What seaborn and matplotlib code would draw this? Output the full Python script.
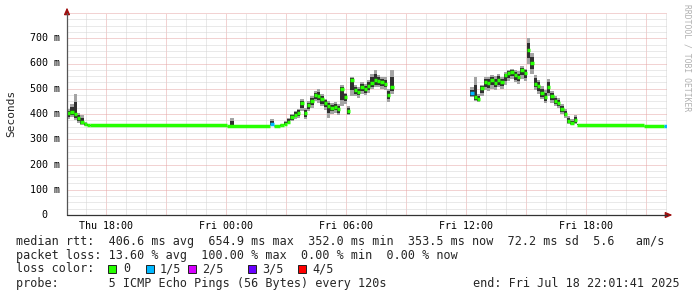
import numpy as np
import pandas as pd
import matplotlib
matplotlib.use("Agg")
import matplotlib.pyplot as plt
import seaborn as sns
from matplotlib.patches import Rectangle
from matplotlib.ticker import MultipleLocator, FixedLocator
from matplotlib.transforms import blended_transform_factory

# ---------------- data: median RTT (ms), 10-minute steps from Thu 16:03 ----------------
start_hour = 16.05          # hours since Thu 00:00
step_hours = 1 / 6

seg1_med = [402, 406, 400, 385, 368, 360, 356]
seg1_lo = [380, 388, 375, 365, 355, 352, 352]
seg1_hi = [420, 440, 478, 405, 395, 368, 362]
seg1_loss = [0, 0, 0, 0, 0, 0, 0]

flat1_med = [355] * 41
flat1_lo = [353] * 41
flat1_hi = [357] * 41
flat1_loss = [0] * 41

flat2_med = [352] * 13
flat2_lo = [350] * 13
flat2_hi = [354, 383] + [354] * 11
flat2_loss = [0] * 13

seg2_med = [360, 352, 352, 355, 362, 370, 387, 398, 405, 443, 403, 435, 450, 474, 470, 458,
            445, 432, 425, 428, 418, 498, 466, 412, 534, 494, 486, 506, 498, 510, 522, 534,
            530, 526, 520, 474, 506]
seg2_lo = [352, 350, 350, 350, 355, 360, 372, 380, 385, 410, 380, 410, 425, 450, 445, 430,
           415, 385, 400, 405, 395, 430, 440, 395, 470, 470, 465, 480, 475, 485, 500, 505,
           505, 500, 495, 447, 480]
seg2_hi = [380, 356, 356, 360, 372, 385, 400, 412, 420, 458, 425, 450, 470, 492, 500, 478,
           460, 450, 445, 448, 440, 515, 485, 430, 545, 515, 505, 525, 520, 535, 560, 573,
           555, 548, 545, 500, 573]
seg2_loss = [1] + [0] * 36

gap_len = 23

seg3_med = [482, 466, 459, 502, 526, 522, 534, 522, 534, 526, 553, 561, 565, 553, 545, 573,
            561, 655, 603, 520, 510, 482, 466, 506, 470, 450, 445, 420, 400, 372, 365, 375]
seg3_lo = [466, 450, 448, 470, 495, 490, 500, 495, 505, 500, 515, 530, 540, 525, 520, 540,
           530, 600, 560, 495, 480, 460, 445, 470, 445, 430, 425, 400, 385, 362, 358, 360]
seg3_hi = [506, 545, 480, 515, 545, 548, 555, 550, 560, 548, 565, 575, 580, 575, 570, 590,
           580, 700, 640, 555, 535, 510, 495, 540, 490, 472, 465, 440, 420, 392, 380, 395]
seg3_loss = [1] + [0] * 31

flat3_med = [358] * 20 + [352] * 7
flat3_lo = [356] * 20 + [350] * 7
flat3_hi = [360] * 20 + [354] * 7
flat3_loss = [0] * 26 + [1]

loss_labels = ["0", "1/5", "2/5", "3/5", "4/5"]
loss_colors = ["#26ff00", "#00b8ff", "#d600ff", "#6a00ff", "#ff0000"]

x_tick_hours = [18, 24, 30, 36, 42]
x_tick_labels = ["Thu 18:00", "Fri 00:00", "Fri 06:00", "Fri 12:00", "Fri 18:00"]
y_tick_values = [0, 100, 200, 300, 400, 500, 600, 700]
y_tick_labels = ["0", "100 m", "200 m", "300 m", "400 m", "500 m", "600 m", "700 m"]

legend_rtt = "median rtt:  406.6 ms avg  654.9 ms max  352.0 ms min  353.5 ms now  72.2 ms sd  5.6   am/s"
legend_loss = "packet loss: 13.60 % avg  100.00 % max  0.00 % min  0.00 % now"
legend_probe = "probe:       5 ICMP Echo Pings (56 Bytes) every 120s"
legend_end = "end: Fri Jul 18 22:01:41 2025"

# ---------------- assemble ----------------
nan = [np.nan] * gap_len
med = np.array(seg1_med + flat1_med + flat2_med + seg2_med + nan + seg3_med + flat3_med, float)
lo = np.array(seg1_lo + flat1_lo + flat2_lo + seg2_lo + nan + seg3_lo + flat3_lo, float)
hi = np.array(seg1_hi + flat1_hi + flat2_hi + seg2_hi + nan + seg3_hi + flat3_hi, float)
loss = np.array(seg1_loss + flat1_loss + flat2_loss + seg2_loss + [0] * gap_len + seg3_loss + flat3_loss)
t = start_hour + step_hours * np.arange(len(med))
valid = ~np.isnan(med)

# ---------------- figure ----------------
sns.set_theme(style="white")
plt.rcParams["font.family"] = ["DejaVu Sans Mono", "DejaVu Sans"]

W, H = 697, 297
fig = plt.figure(figsize=(W / 100, H / 100), dpi=100)
fig.patch.set_facecolor("white")
ax = fig.add_axes([67 / W, 1 - 215 / H, 600 / W, 202 / H])
ax.set_facecolor("white")

ax.set_xlim(start_hour, start_hour + step_hours * len(med))
ax.set_ylim(0, 800)

# grid
ax.xaxis.set_major_locator(FixedLocator(np.arange(18, 46, 3)))
ax.xaxis.set_minor_locator(FixedLocator(np.arange(17, 47, 1)))
ax.yaxis.set_major_locator(MultipleLocator(100))
ax.yaxis.set_minor_locator(MultipleLocator(25))
ax.set_axisbelow(True)
ax.grid(True, which="minor", color="#d4d4d4", linestyle=(0, (1, 1)), linewidth=0.72)
ax.grid(True, which="major", color="#e6a6a6", linestyle=(0, (1, 1)), linewidth=0.72)
major_x = list(np.arange(18, 46, 3))
ax.set_xticks(major_x)
ax.set_xticklabels([x_tick_labels[x_tick_hours.index(h)] if h in x_tick_hours else "" for h in major_x])
ax.set_yticklabels([])
ax.tick_params(axis="x", which="major", length=2, width=0.7, color="#e6a6a6", pad=2.5,
               labelsize=7.2, labelcolor="black")
ax.tick_params(axis="y", which="major", length=2, width=0.7, color="#e6a6a6", pad=0)
ax.tick_params(which="minor", length=2, width=0.7, color="#d4d4d4")
for s in ax.spines.values():
    s.set_visible(False)

# smoke
tv, lov, hiv, medv = t[valid], lo[valid], hi[valid], med[valid]
ax.bar(tv, hiv - lov, bottom=lov, width=step_hours, align="edge", color="#a4a4a4",
       linewidth=0, zorder=2)
in_lo = medv - (medv - lov) * 0.6
in_hi = medv + (hiv - medv) * 0.6
ax.bar(tv, in_hi - in_lo, bottom=in_lo, width=step_hours, align="edge", color="#303030",
       linewidth=0, zorder=3)

# median, coloured by loss: runs of equal samples form one step segment
rows = []
run = -1
prev = None
for i in range(len(med)):
    if not valid[i]:
        prev = None
        continue
    key = (med[i], loss[i])
    if key != prev:
        run += 1
        lab = loss_labels[loss[i]]
        rows.append([t[i], med[i], run, lab])
        rows.append([t[i] + step_hours, med[i], run, lab])
    else:
        rows[-1][0] = t[i] + step_hours
    prev = key
df = pd.DataFrame(rows, columns=["t", "median", "step", "loss"])
sns.lineplot(data=df, x="t", y="median", units="step", estimator=None, hue="loss",
             palette=dict(zip(loss_labels, loss_colors)), linewidth=2.5,
             solid_capstyle="butt", legend=False, ax=ax, zorder=4, sort=False)
ax.set_xlabel("")
ax.set_ylabel("")

# axis lines with arrows
ax.plot([0, 0], [0, 1.0], transform=ax.transAxes, color="#555555", lw=0.9, clip_on=False, zorder=5)
ax.plot([0, 1.0], [0, 0], transform=ax.transAxes, color="#333333", lw=0.9, clip_on=False, zorder=5)
arrow = dict(arrowstyle="-|>,head_length=0.5,head_width=0.22", color="#a01010", lw=0.9,
             shrinkA=0, shrinkB=0, mutation_scale=8)
ax.annotate("", xy=(0, 1.027), xytext=(0, 1.0), xycoords="axes fraction", arrowprops=arrow)
ax.annotate("", xy=(1.009, 0), xytext=(1.0, 0), xycoords="axes fraction", arrowprops=arrow)

# y tick labels
trans = blended_transform_factory(ax.transAxes, ax.transData)
for v, lab in zip(y_tick_values, y_tick_labels):
    xr = (47 - 67) / 600 if v == 0 else (60 - 67) / 600
    ax.text(xr, v, lab, transform=trans, ha="right", va="center", fontsize=7.2, color="black")

fig.text(11 / W, 1 - 113 / H, "Seconds", rotation=90, ha="center", va="center", fontsize=8)
fig.text(687 / W, 1 - 4 / H, "RRDTOOL / TOBI OETIKER", rotation=270, ha="center", va="top",
         fontsize=5.8, color="#b0b0b0")

# legend text
def fy(y):
    return 1 - y / H

fs = 8.5
fig.text(16 / W, fy(241), legend_rtt, ha="left", va="center", fontsize=fs)
fig.text(16 / W, fy(255), legend_loss, ha="left", va="center", fontsize=fs)
fig.text(16 / W, fy(269), "loss color:", ha="left", va="center", fontsize=fs)
sq_x = [108, 146, 188, 248, 298]
txt_x = [123, 160, 202, 262, 312]
for sx, tx, lab, col in zip(sq_x, txt_x, loss_labels, loss_colors):
    fig.patches.append(Rectangle((sx / W, fy(273)), 8 / W, 8 / H, transform=fig.transFigure,
                                 facecolor=col, edgecolor="#202020", linewidth=0.7))
    fig.text(tx / W, fy(269), lab, ha="left", va="center", fontsize=fs)
fig.text(16 / W, fy(283.5), legend_probe, ha="left", va="center", fontsize=fs)
fig.text(680 / W, fy(283.5), legend_end, ha="right", va="center", fontsize=fs)

fig.savefig("out.png", dpi=100, facecolor="white")
